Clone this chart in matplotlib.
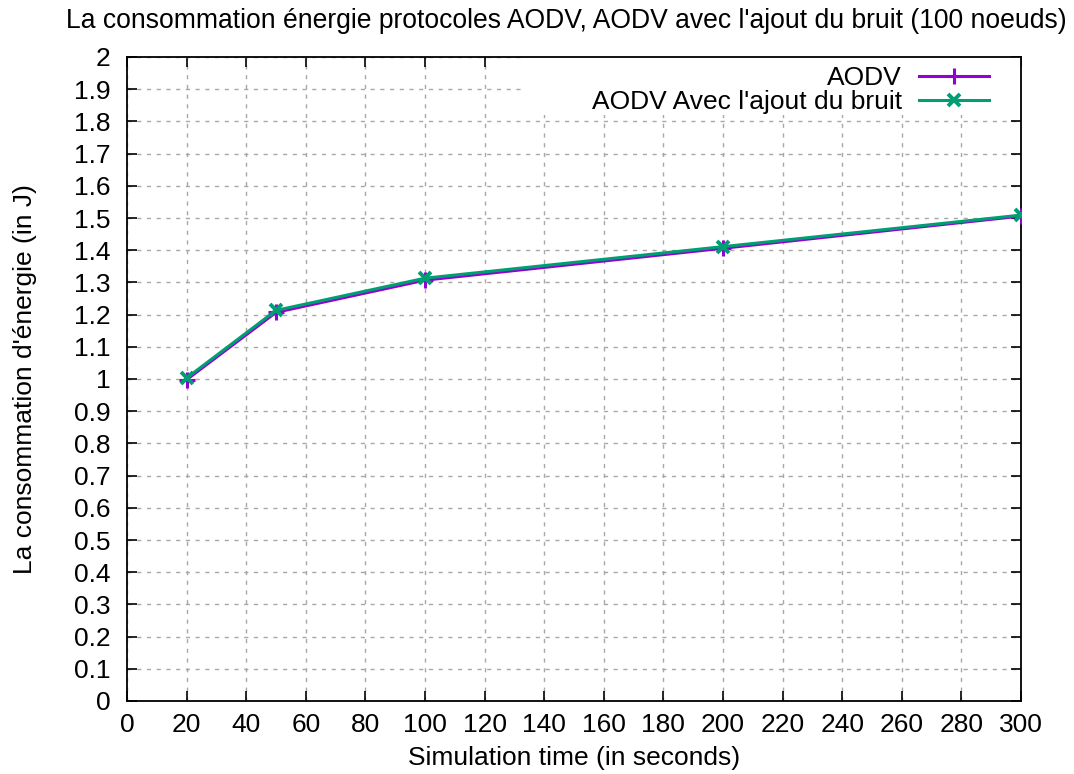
import matplotlib
matplotlib.use("Agg")
import matplotlib.pyplot as plt
from matplotlib.ticker import MultipleLocator, FuncFormatter
from matplotlib.patches import Rectangle

sim_time = [20, 50, 100, 200, 300]
aodv = [0.998, 1.207, 1.307, 1.406, 1.506]
aodv_bruit = [1.003, 1.213, 1.313, 1.411, 1.509]

plt.rcParams['font.family'] = ['Liberation Sans', 'DejaVu Sans']
FS = 19

fig = plt.figure(figsize=(10.74, 7.74), dpi=100)
ax = fig.add_axes([127/1074, 1-701/774, (1021-127)/1074, (701-57)/774])
ax.set_axisbelow(True)

ax.plot(sim_time, aodv, color='#9400D3', lw=2.2, marker='+', ms=12, mew=2.2, label='AODV', zorder=3)
ax.plot(sim_time, aodv_bruit, color='#009E73', lw=2.2, marker='x', ms=9, mew=2.8,
        label="AODV Avec l'ajout du bruit", zorder=4)

ax.set_xlim(0, 300)
ax.set_ylim(0, 2)
ax.xaxis.set_major_locator(MultipleLocator(20))
ax.yaxis.set_major_locator(MultipleLocator(0.1))
ax.yaxis.set_major_formatter(FuncFormatter(lambda v, p: ('%g' % round(v, 1))))
ax.tick_params(direction='in', top=True, right=True, length=7, width=1.2, labelsize=FS)
ax.tick_params(axis='y', pad=12)
ax.tick_params(axis='x', pad=9)
for s in ax.spines.values():
    s.set_linewidth(1.3)
ax.grid(True, color='#a8a8a8', ls=(0, (3, 4)), lw=1.0)

# white key box hiding the grid behind the legend
ax.add_patch(Rectangle((0.4407, 0.91), 1 - 0.4407, 0.09, transform=ax.transAxes,
                       facecolor='white', edgecolor='none', zorder=1))

ax.set_xlabel('Simulation time (in seconds)', fontsize=FS)
ax.xaxis.set_label_coords(0.5, -(758 - 701) / 644)
ax.xaxis.label.set_va('center')
ax.set_ylabel("La consommation d'énergie (in J)", fontsize=FS)
ax.yaxis.set_label_coords(-(127 - 25) / 894, 0.5)
ax.yaxis.label.set_va('center')
fig.text(66/1074, 1-21/774, "La consommation énergie protocoles AODV, AODV avec l'ajout du bruit (100 noeuds)",
         fontsize=19.1, ha='left', va='center')

leg = ax.legend(loc='upper right', bbox_to_anchor=(1.0 - 23/894, 1.0), markerfirst=False, frameon=False,
                fontsize=FS, handlelength=2.65, handletextpad=0.65, borderaxespad=0.0,
                borderpad=0.35, labelspacing=0.0)

fig.savefig('out.png', dpi=100)
